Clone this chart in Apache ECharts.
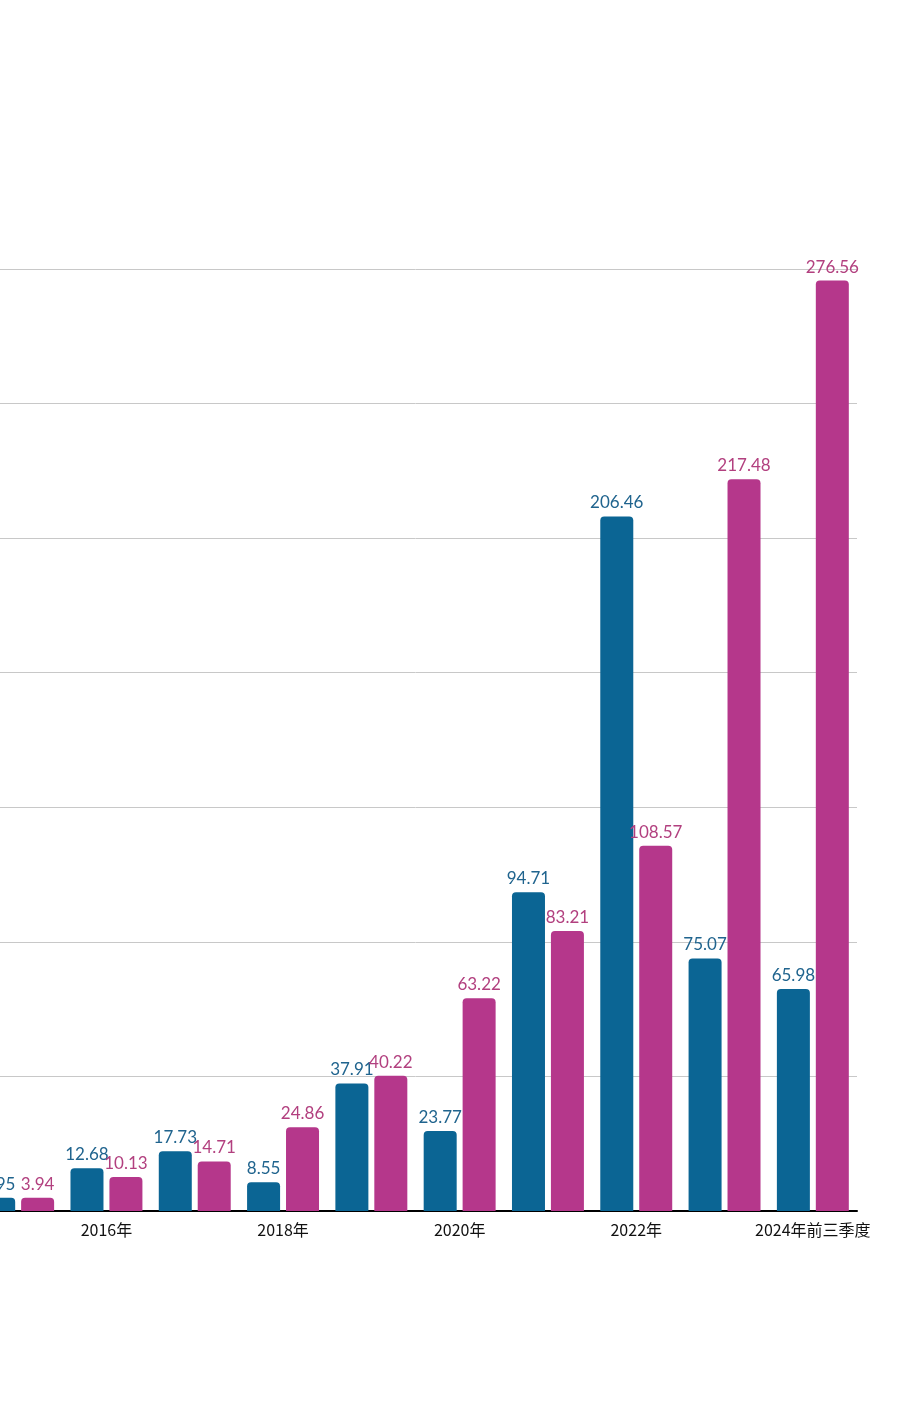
<!DOCTYPE html>
<html>
<head>
<meta charset="utf-8">
<style>html,body{margin:0;padding:0;background:#fff;overflow:hidden;}#wrap{width:900px;height:1405px;overflow:hidden;position:relative;}#c{position:absolute;left:-26px;top:0;width:926px;height:1405px;}</style>
<script src="https://cdn.jsdelivr.net/npm/echarts@6/dist/echarts.min.js"></script>
</head>
<body>
<div id="wrap"><div id="c"></div></div>
<script>
const categories = ['2015年','2016年','2017年','2018年','2019年','2020年','2021年','2022年','2023年','2024年前三季度'];
const seriesA = [3.95, 12.68, 17.73, 8.55, 37.91, 23.77, 94.71, 206.46, 75.07, 65.98];
const seriesB = [3.94, 10.13, 14.71, 24.86, 40.22, 63.22, 83.21, 108.57, 217.48, 276.56];
const colorA = '#0b6594';
const colorB = '#b5378b';
const chart = echarts.init(document.getElementById('c'));
const labelFont = '"Lato", "Noto Sans", sans-serif';
chart.setOption({
  animation: false,
  grid: { left: 0, right: 43, top: 269, bottom: 194, containLabel: false },
  xAxis: {
    type: 'category',
    data: categories,
    axisLine: { lineStyle: { color: '#000', width: 2 } },
    axisTick: { show: false },
    axisLabel: {
      interval: function (i) { return i % 2 === 1; },
      color: '#111', fontSize: 16, margin: 11,
      fontFamily: '"Noto Sans CJK SC", "Noto Sans", sans-serif'
    }
  },
  yAxis: {
    type: 'value', min: 0, max: 280, interval: 40,
    axisLabel: { show: false },
    axisLine: { show: false }, axisTick: { show: false },
    splitLine: { lineStyle: { color: '#c8c8c8', width: 1 } }
  },
  series: [
    { type: 'bar', data: seriesA, barWidth: 33, barGap: '18%',
      itemStyle: { color: colorA, borderRadius: [4,4,0,0] },
      label: { show: true, position: 'top', distance: 5, color: '#20648e', fontSize: 17, fontFamily: labelFont } },
    { type: 'bar', data: seriesB, barWidth: 33,
      itemStyle: { color: colorB, borderRadius: [4,4,0,0] },
      label: { show: true, position: 'top', distance: 5, color: '#b2407f', fontSize: 17, fontFamily: labelFont } }
  ]
});
</script>
</body>
</html>
